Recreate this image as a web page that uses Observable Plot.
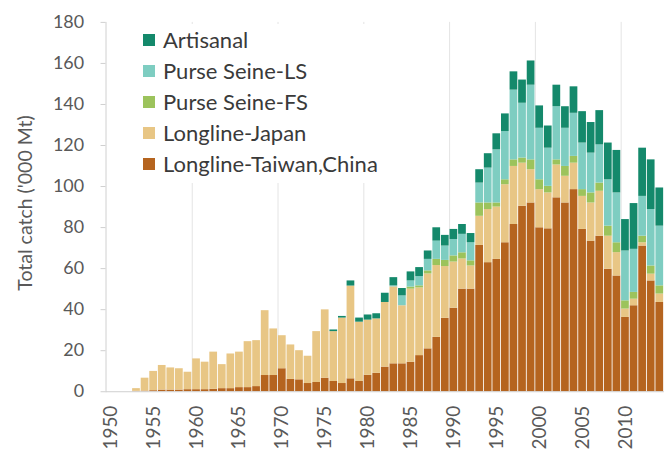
<!DOCTYPE html>
<html>
<head>
<meta charset="utf-8">
<script src="https://cdn.jsdelivr.net/npm/d3@7"></script>
<script src="https://cdn.jsdelivr.net/npm/@observablehq/plot@0.6"></script>
<style>
  html, body { margin: 0; padding: 0; background: #fff; overflow: hidden; }
  #wrap { position: relative; width: 664px; height: 450px; overflow: hidden; }
  #legend { position: absolute; left: 137px; top: 24px; width: 262px; background: #fff;
            font-family: Lato, sans-serif; font-size: 22px; color: #3a3a3a; padding: 0 0 4px 0; }
  .row { display: flex; align-items: center; height: 31px; }
  .sw { width: 12px; height: 12px; margin-left: 6px; margin-right: 8px; flex: none; }
  #ylabel { position: absolute; left: 24px; top: 203px; transform: translate(-50%, -50%) rotate(-90deg);
            white-space: nowrap; font-family: Lato, sans-serif; font-size: 19.5px; color: #595959; }
</style>
</head>
<body>
<div id="wrap"><div id="legend"></div><div id="ylabel"></div></div>
<script>
const years = [1950,1951,1952,1953,1954,1955,1956,1957,1958,1959,
  1960,1961,1962,1963,1964,1965,1966,1967,1968,1969,
  1970,1971,1972,1973,1974,1975,1976,1977,1978,1979,
  1980,1981,1982,1983,1984,1985,1986,1987,1988,1989,
  1990,1991,1992,1993,1994,1995,1996,1997,1998,1999,
  2000,2001,2002,2003,2004,2005,2006,2007,2008,2009,
  2010,2011,2012,2013,2014];

const longlineTaiwan = [0,0,0,0.2,0.3,0.5,0.8,0.8,0.8,1.0,
  1.0,1.0,1.2,1.5,1.5,2.0,2.0,2.5,7.9,7.9,
  11.2,6.0,5.8,4.0,4.5,6.6,5.0,4.0,6.3,5.0,
  8.0,9.0,12.0,13.6,13.6,14.4,17.6,20.9,26.5,35.8,
  40.7,50.0,50.0,71.3,62.9,64.5,72.6,81.5,90.4,92.0,
  79.9,79.4,94.5,92.0,98.5,79.1,73.4,75.8,59.7,56.4,
  36.2,41.9,71.0,54.0,43.5];

const longlineJapan = [0,0,0,1.3,6.3,9.4,12.0,10.8,10.4,8.5,
  15.0,13.4,18.1,11.7,16.9,17.3,22.4,22.4,31.6,22.7,
  16.1,16.8,14.2,13.3,24.8,33.3,24.3,31.9,45.2,28.9,
  26.9,26.5,31.5,37.5,28.3,35.6,33.0,36.5,35.0,25.2,
  22.5,14.7,11.3,14.2,25.9,25.5,28.3,28.3,21.0,16.2,
  18.6,17.5,16.0,13.0,12.9,16.1,18.6,21.9,16.1,11.4,
  4.1,3.2,1.6,3.3,4.1];

const purseSeineFS = [0,0,0,0,0,0,0,0,0,0,
  0,0,0,0,0,0,0,0,0,0,
  0,0,0,0,0,0,0,0,0,0,
  0,0,0,0,0,1.0,1.0,1.5,3.0,3.0,
  3.0,3.0,2.5,6.5,3.2,2.0,2.4,3.2,2.5,4.8,
  4.8,3.2,2.5,4.8,3.3,3.3,4.9,4.0,4.9,4.8,
  4.0,3.3,3.2,4.0,4.0];

const purseSeineLS = [0,0,0,0,0,0,0,0,0,0,
  0,0,0,0,0,0,0,0,0,0,
  0,0,0,0,0,0,0,0,0,0,
  0,0,0,0.5,4.8,3.0,4.5,5.6,8.9,7.0,
  8.0,9.0,8.8,9.7,17.0,25.9,23.5,34.0,26.7,36.4,
  25.1,18.6,25.9,18.6,21.0,22.7,19.4,18.6,22.6,24.3,
  24.3,21.0,19.4,27.5,29.1];

const artisanal = [0,0,0,0,0,0,0,0,0,0,
  0,0,0,0,0,0,0,0,0,0,
  0,0,0,0,0,0,0.8,0.8,2.5,2.0,
  2.5,2.5,4.5,4.0,3.6,4.4,4.4,4.1,6.5,5.2,
  4.9,4.8,4.5,6.5,7.0,7.8,8.6,8.9,11.3,11.8,
  10.9,10.8,10.5,10.5,12.9,15.3,14.9,16.7,17.9,20.7,
  15.3,22.3,23.5,24.2,18.6];

// stacking order bottom -> top
const seriesNames = ["Longline-Taiwan,China", "Longline-Japan", "Purse Seine-FS", "Purse Seine-LS", "Artisanal"];
const seriesColors = ["#b5641f", "#e8c685", "#9cc35c", "#7ecdc1", "#14896b"];
const seriesValues = [longlineTaiwan, longlineJapan, purseSeineFS, purseSeineLS, artisanal];

const yTicks = [0,20,40,60,80,100,120,140,160,180];
const xTicks = [1950,1955,1960,1965,1970,1975,1980,1985,1990,1995,2000,2005,2010];
const gridYears = [1960,1970,1980,1990,2000,2010];
const yTitle = "Total catch ('000 Mt)";

const data = [];
seriesNames.forEach((s, i) => {
  years.forEach((yr, j) => data.push({year: yr, series: s, value: seriesValues[i][j]}));
});

const W = 667, ML = 106, pad = 0.1;
const step = (W - ML) / (years.length - pad + 2 * pad);

const chart = Plot.plot({
  width: W,
  height: 450,
  marginLeft: ML,
  marginRight: 0,
  marginTop: 22,
  marginBottom: 57,
  style: {fontFamily: "Lato, sans-serif", fontSize: "18px", color: "#595959", background: "white", overflow: "visible"},
  x: {type: "band", domain: years, padding: pad, label: null},
  y: {domain: [0, 180], label: null},
  color: {domain: seriesNames, range: seriesColors},
  marks: [
    Plot.ruleX(gridYears, {x: d => d, dx: -step / 2, stroke: "#e4e4e4", strokeWidth: 1}),
    Plot.barY(data, {x: "year", y: "value", fill: "series"}),
    Plot.ruleY([0], {stroke: "#d0d0d0", strokeWidth: 1}),
    Plot.frame({anchor: "left", stroke: "#d0d0d0"}),
    Plot.axisX({ticks: xTicks, tickFormat: d => String(d), tickRotate: -90, tickSize: 0, tickPadding: 14, label: null, fontSize: 19}),
    Plot.axisY({ticks: yTicks, tickSize: 5, tickPadding: 17, stroke: "#d0d0d0", label: null, fontSize: 18})
  ]
});

const wrap = document.getElementById("wrap");
wrap.insertBefore(chart, wrap.firstChild);
document.getElementById("ylabel").textContent = yTitle;

const legend = document.getElementById("legend");
[...seriesNames].reverse().forEach(s => {
  const row = document.createElement("div");
  row.className = "row";
  const sw = document.createElement("span");
  sw.className = "sw";
  sw.style.background = seriesColors[seriesNames.indexOf(s)];
  const t = document.createElement("span");
  t.textContent = s;
  row.appendChild(sw); row.appendChild(t);
  legend.appendChild(row);
});
</script>
</body>
</html>
